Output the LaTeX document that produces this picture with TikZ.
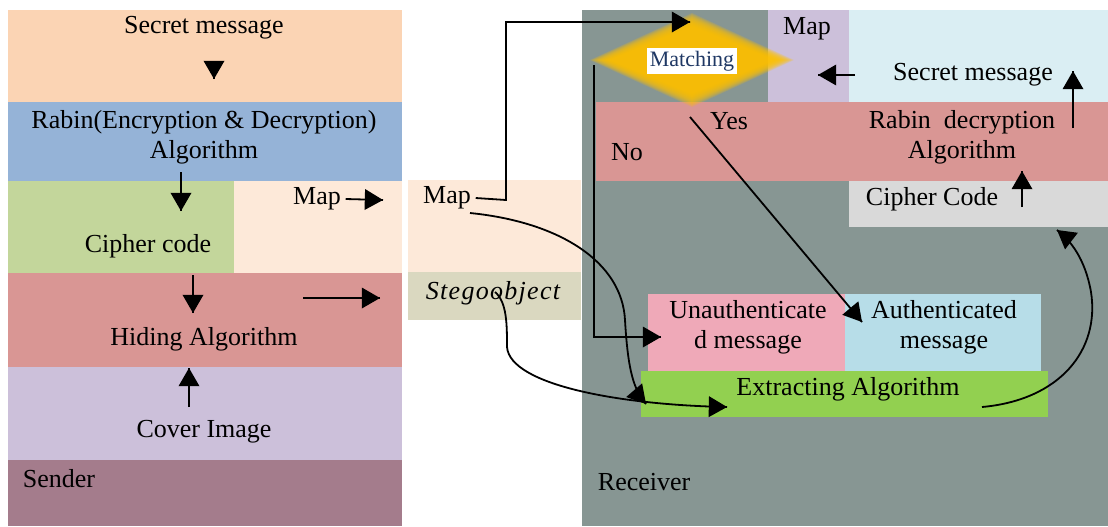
\documentclass[tikz,border=0pt]{standalone}
\usepackage{fontspec}
\setmainfont{Liberation Serif}
\newfontfamily\stegofont[LetterSpace=5]{Liberation Serif}
\usetikzlibrary{arrows}
\usetikzlibrary{decorations.markings}
\tikzset{->/.style = {decoration={markings,
                                  mark=at position 1 with {\arrow[scale=1.3]{triangle 60}}},
                      postaction={decorate}}}
\definecolor{mpeach}{HTML}{FBD4B4}
\definecolor{mblue}{HTML}{95B3D7}
\definecolor{mgreen}{HTML}{C3D69B}
\definecolor{mcream}{HTML}{FDE9D9}
\definecolor{mrose}{HTML}{D99694}
\definecolor{mlilac}{HTML}{CCC0DA}
\definecolor{mmauve}{HTML}{A47C8C}
\definecolor{mtan}{HTML}{DAD8C0}
\definecolor{mgrey}{HTML}{879693}
\definecolor{mice}{HTML}{DAEEF3}
\definecolor{msilver}{HTML}{D9D9D9}
\definecolor{mpink}{HTML}{EFA9B8}
\definecolor{msky}{HTML}{B7DDE8}
\definecolor{mlime}{HTML}{92D050}
\definecolor{mgold}{HTML}{FFC000}
\definecolor{mnavy}{HTML}{1F3864}

\begin{document}
\begin{tikzpicture}[x=0.5pt, y=-0.5pt, line width=0.9pt,
    txt/.style={font=\fontsize{13}{15}\selectfont, inner sep=2pt, align=center}]
    \fill [white] (0, 0) rectangle (1108, 526);
    \useasboundingbox (0, 0) rectangle (1108, 526);

    % sender side
    \fill [mpeach] (8, 10) rectangle (402, 102);
    \fill [mblue] (8, 102) rectangle (402, 181);
    \fill [mgreen] (8, 181) rectangle (234, 273);
    \fill [mcream] (234, 181) rectangle (402, 273);
    \fill [mrose] (8, 273) rectangle (402, 367);
    \fill [mlilac] (8, 367) rectangle (402, 460);
    \fill [mmauve] (8, 460) rectangle (402, 526);

    % channel
    \fill [mcream] (408, 180) rectangle (581, 272);
    \fill [mtan] (408, 272) rectangle (581, 320);

    % receiver side
    \fill [mgrey] (582, 10) rectangle (1108, 526);
    \fill [mlilac] (768, 10) rectangle (849, 102);
    \fill [mice] (849, 10) rectangle (1108, 102);
    \fill [mrose] (596, 102) rectangle (1108, 181);
    \fill [msilver] (849, 181) rectangle (1108, 227);
    \fill [mpink] (648, 294) rectangle (845, 371);
    \fill [msky] (845, 294) rectangle (1041, 371);
    \fill [mlime] (641, 371) rectangle (1048, 417);

    % glowing diamond
    \foreach \k in {0,...,13}
      \fill [mgold, opacity=0.18] ({590+1.5*\k}, 60) -- (692, {13+1*\k})
        -- ({794-1.5*\k}, 60) -- (692, {107-1*\k}) -- cycle;

    \node [txt] (ssec) at (204, 28) {Secret message};
    \node [txt] (srabin) at (204, 137) {Rabin(Encryption \& Decryption)\\Algorithm};
    \node [txt] (scipher) at (148, 246) {Cipher code};
    \node [txt] (smap) at (317, 199) {Map};
    \node [txt] (shide) at (204, 339) {Hiding Algorithm};
    \node [txt] (scover) at (204, 432) {Cover Image};
    \node [txt, right] (sender) at (18, 479) {Sender};

    \node [txt] (cmap) at (447, 198) {Map};
    \node [txt] (cstego) at (493, 293) {\stegofont\itshape Stegoobject};

    \node [txt] (rmap) at (807, 29) {Map};
    \node [txt] (rsec) at (973, 75) {Secret message};
    \node [txt] (rrabin) at (962, 137) {Rabin~~decryption\\Algorithm};
    \node [txt] (ryes) at (729, 121) {Yes};
    \node [txt] (rno) at (627, 152) {No};
    \node [txt] (rcipher) at (932, 199) {Cipher Code};
    \node [txt] (runauth) at (748, 327) {Unauthenticate\\d message};
    \node [txt] (rauth) at (944, 327) {Authenticated\\message};
    \node [txt] (rextract) at (848, 389) {Extracting Algorithm};
    \node [txt, right] (receiver) at (593, 482) {Receiver};
    \node [fill=white, text=mnavy, font=\fontsize{11}{12}\selectfont,
           inner sep=1.5pt] (match) at (692, 61) {Matching};

    % free ends
    \coordinate (s1) at (214, 62);   \coordinate (s1e) at (214, 79);
    \coordinate (s2) at (181, 172);  \coordinate (s2e) at (181, 211);
    \coordinate (s3e) at (383, 200);
    \coordinate (s4) at (193, 275);  \coordinate (s4e) at (193, 313);
    \coordinate (s5) at (303, 298);  \coordinate (s5e) at (380, 298);
    \coordinate (s6) at (189, 407);  \coordinate (s6e) at (189, 368);
    \coordinate (r1) at (855, 75);   \coordinate (r1e) at (818, 75);
    \coordinate (r2) at (1073, 128); \coordinate (r2e) at (1073, 71);
    \coordinate (r3) at (1022, 207); \coordinate (r3e) at (1022, 171);
    \coordinate (mtop) at (690, 22);
    \coordinate (nostart) at (594, 65); \coordinate (noend) at (661, 337);
    \coordinate (yesstart) at (690, 117); \coordinate (yesend) at (862, 322);

    \draw [->] (s1) -- (s1e);
    \draw [->] (s2) -- (s2e);
    \draw [->] (smap.east) -- (s3e);
    \draw [->] (s4) -- (s4e);
    \draw [->] (s5) -- (s5e);
    \draw [->] (s6) -- (s6e);
    \draw [->] (r1) -- (r1e);
    \draw [->] (r2) -- (r2e);
    \draw [->] (r3) -- (r3e);

    \draw [->] (cmap.east) -- (506, 200) -- (506, 22) -- (mtop);
    \draw [->] (nostart) -- (594, 337) -- (noend);
    \draw [->] (yesstart) -- (yesend);

    \draw [->] (470, 213) .. controls (560, 222) and (622, 262) .. (625, 320)
        .. controls (628, 372) and (634, 390) .. (646, 404);
    \draw [->] (495, 292) .. controls (507, 302) and (507, 325) .. (507, 347)
        .. controls (510, 385) and (620, 405) .. (727, 407);
    \draw [->] (982, 407) .. controls (1060, 400) and (1100, 350) .. (1091, 292)
        .. controls (1085, 258) and (1070, 240) .. (1057, 230);
  \end{tikzpicture}
\end{document}
